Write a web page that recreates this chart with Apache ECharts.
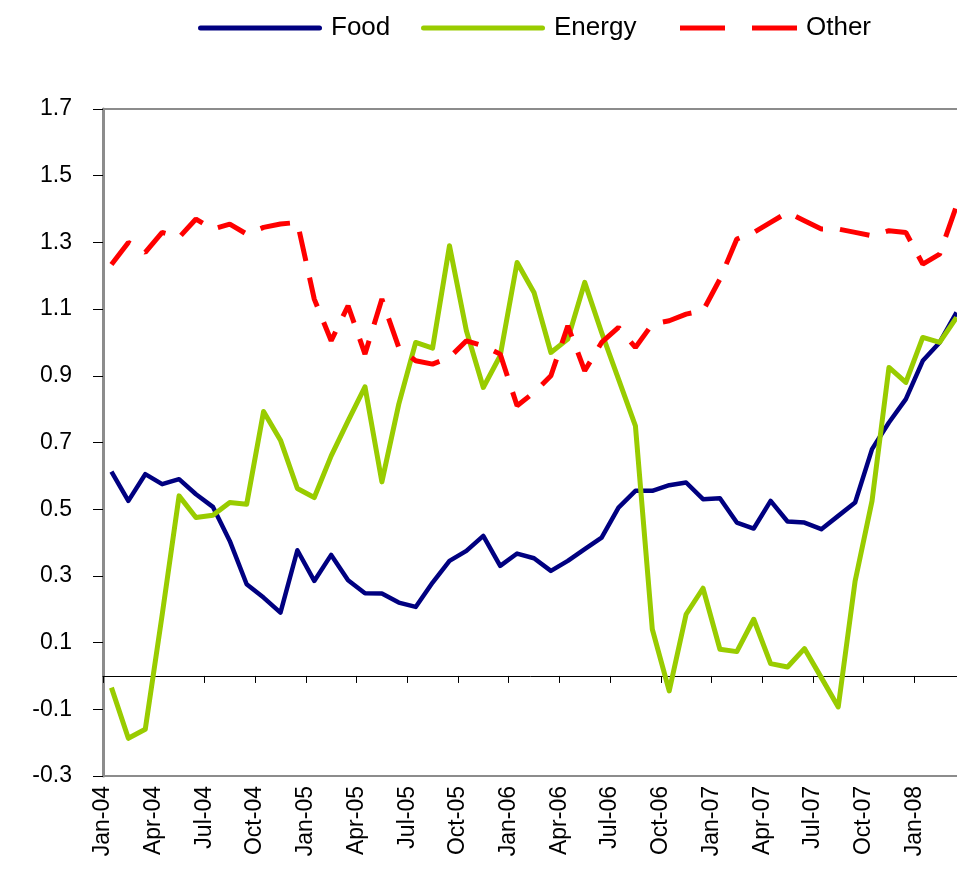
<!DOCTYPE html>
<html>
<head>
<meta charset="utf-8">
<script src="https://cdn.jsdelivr.net/npm/echarts@6/dist/echarts.min.js"></script>
<style>
  html, body { margin: 0; padding: 0; background: #ffffff; }
  #chart { width: 957px; height: 870px; }
</style>
</head>
<body>
<div id="chart"></div>
<script>
// Monthly categories, Jan-04 .. Mar-08
const months = [
  'Jan-04','Feb-04','Mar-04','Apr-04','May-04','Jun-04','Jul-04','Aug-04','Sep-04','Oct-04','Nov-04','Dec-04',
  'Jan-05','Feb-05','Mar-05','Apr-05','May-05','Jun-05','Jul-05','Aug-05','Sep-05','Oct-05','Nov-05','Dec-05',
  'Jan-06','Feb-06','Mar-06','Apr-06','May-06','Jun-06','Jul-06','Aug-06','Sep-06','Oct-06','Nov-06','Dec-06',
  'Jan-07','Feb-07','Mar-07','Apr-07','May-07','Jun-07','Jul-07','Aug-07','Sep-07','Oct-07','Nov-07','Dec-07',
  'Jan-08','Feb-08','Mar-08'
];

const food = [
  0.613, 0.525, 0.605, 0.575, 0.590, 0.545, 0.507, 0.405, 0.275, 0.235, 0.190, 0.377,
  0.285, 0.363, 0.287, 0.248, 0.247, 0.220, 0.207, 0.280, 0.345, 0.375, 0.420, 0.330,
  0.367, 0.353, 0.315, 0.345, 0.380, 0.415, 0.505, 0.555, 0.555, 0.572, 0.580, 0.530,
  0.533, 0.460, 0.442, 0.525, 0.463, 0.460, 0.440, 0.480, 0.520, 0.680, 0.760, 0.830,
  0.945, 1.000, 1.090
];

const energy = [
  -0.035, -0.187, -0.160, 0.183, 0.540, 0.475, 0.482, 0.520, 0.515, 0.793, 0.707, 0.562,
  0.535, 0.660, 0.765, 0.867, 0.582, 0.815, 1.000, 0.983, 1.290, 1.035, 0.865, 0.960,
  1.240, 1.150, 0.970, 1.010, 1.180, 1.030, 0.890, 0.750, 0.140, -0.045, 0.185, 0.263,
  0.080, 0.073, 0.170, 0.037, 0.027, 0.082, -0.005, -0.093, 0.285, 0.525, 0.925, 0.880,
  1.015, 1.000, 1.075
];

const other = [
  1.234, 1.300, 1.270, 1.330, 1.315, 1.370, 1.340, 1.355, 1.325, 1.345, 1.355, 1.360,
  1.130, 1.005, 1.110, 0.965, 1.130, 0.985, 0.945, 0.935, 0.955, 1.005, 0.990, 0.965,
  0.810, 0.850, 0.900, 1.050, 0.915, 1.000, 1.045, 0.985, 1.055, 1.065, 1.085, 1.095,
  1.190, 1.310, 1.330, 1.360, 1.390, 1.365, 1.340, 1.340, 1.330, 1.320, 1.335, 1.330,
  1.235, 1.265, 1.410
];

// Value axis range and step
const yMin = -0.3;
const yMax = 1.7;
const yStep = 0.2;

const FONT = "'Liberation Sans', Arial, Helvetica, sans-serif";
const COLORS = { food: '#000080', energy: '#99CC00', other: '#FF0000' };

// Legend keys: a solid bar for the solid lines, two dashes for the dashed one
const SOLID_KEY = 'path://M2.5,0L121.5,0A2.5,2.5,0,0,1,121.5,5L2.5,5A2.5,2.5,0,0,1,2.5,0Z';
const DASH_KEY = 'path://M0,0L45,0L45,5L0,5Z M72,0L117,0L117,5L72,5Z';

function legendFor(name, left, icon, width) {
  return {
    left: left,
    top: 10,
    orient: 'horizontal',
    itemWidth: width,
    itemHeight: 5,
    itemGap: 0,
    selectedMode: false,
    icon: icon,
    data: [{ name: name, icon: icon }],
    textStyle: { fontFamily: FONT, fontSize: 26, color: '#000000', padding: [0, 0, 0, 4] }
  };
}

const chart = echarts.init(document.getElementById('chart'), null, { renderer: 'canvas' });

chart.setOption({
  animation: false,
  backgroundColor: '#ffffff',
  legend: [
    legendFor('Food', 193, SOLID_KEY, 124),
    legendFor('Energy', 416, SOLID_KEY, 124),
    legendFor('Other', 675, DASH_KEY, 117)
  ],
  grid: {
    left: 103,
    top: 109,
    width: 862,
    height: 667,
    outerBoundsMode: 'none',
    containLabel: false,
    show: true,
    borderColor: '#8c8c8c',
    borderWidth: 2,
    backgroundColor: 'transparent'
  },
  xAxis: [
    {
      // axis through zero: line and tick marks only
      type: 'category',
      data: months,
      boundaryGap: true,
      axisLine: { show: true, onZero: true, lineStyle: { color: '#000000', width: 1 } },
      axisTick: { show: true, interval: 2, length: 7, lineStyle: { color: '#000000', width: 1 } },
      axisLabel: { show: false },
      splitLine: { show: false }
    },
    {
      // quarterly labels along the bottom edge, placed on month boundaries
      type: 'category',
      data: months.concat(['']),
      boundaryGap: false,
      position: 'bottom',
      axisLine: { show: false, onZero: false },
      axisTick: { show: false },
      splitLine: { show: false },
      axisLabel: {
        interval: 2,
        rotate: 90,
        margin: 10,
        showMaxLabel: false,
        hideOverlap: false,
        fontFamily: FONT,
        fontSize: 23,
        color: '#000000'
      }
    }
  ],
  yAxis: {
    type: 'value',
    min: yMin,
    max: yMax,
    interval: yStep,
    axisLine: { show: true, lineStyle: { color: '#8c8c8c', width: 3 } },
    axisTick: { show: true, length: 10, lineStyle: { color: '#000000', width: 1 } },
    splitLine: { show: false },
    axisLabel: {
      margin: 31,
      fontFamily: FONT,
      fontSize: 23,
      color: '#000000',
      formatter: function (v) { return v.toFixed(1); }
    }
  },
  series: [
    {
      name: 'Food',
      type: 'line',
      xAxisIndex: 0,
      data: food,
      symbol: 'none',
      color: COLORS.food,
      itemStyle: { color: COLORS.food },
      lineStyle: { color: COLORS.food, width: 4.5, join: 'round' }
    },
    {
      name: 'Energy',
      type: 'line',
      xAxisIndex: 0,
      data: energy,
      symbol: 'none',
      color: COLORS.energy,
      itemStyle: { color: COLORS.energy },
      lineStyle: { color: COLORS.energy, width: 5, join: 'round' }
    },
    {
      name: 'Other',
      type: 'line',
      xAxisIndex: 0,
      data: other,
      symbol: 'none',
      color: COLORS.other,
      itemStyle: { color: COLORS.other },
      lineStyle: { color: COLORS.other, width: 5, type: [30, 17] }
    }
  ]
});
</script>
</body>
</html>
